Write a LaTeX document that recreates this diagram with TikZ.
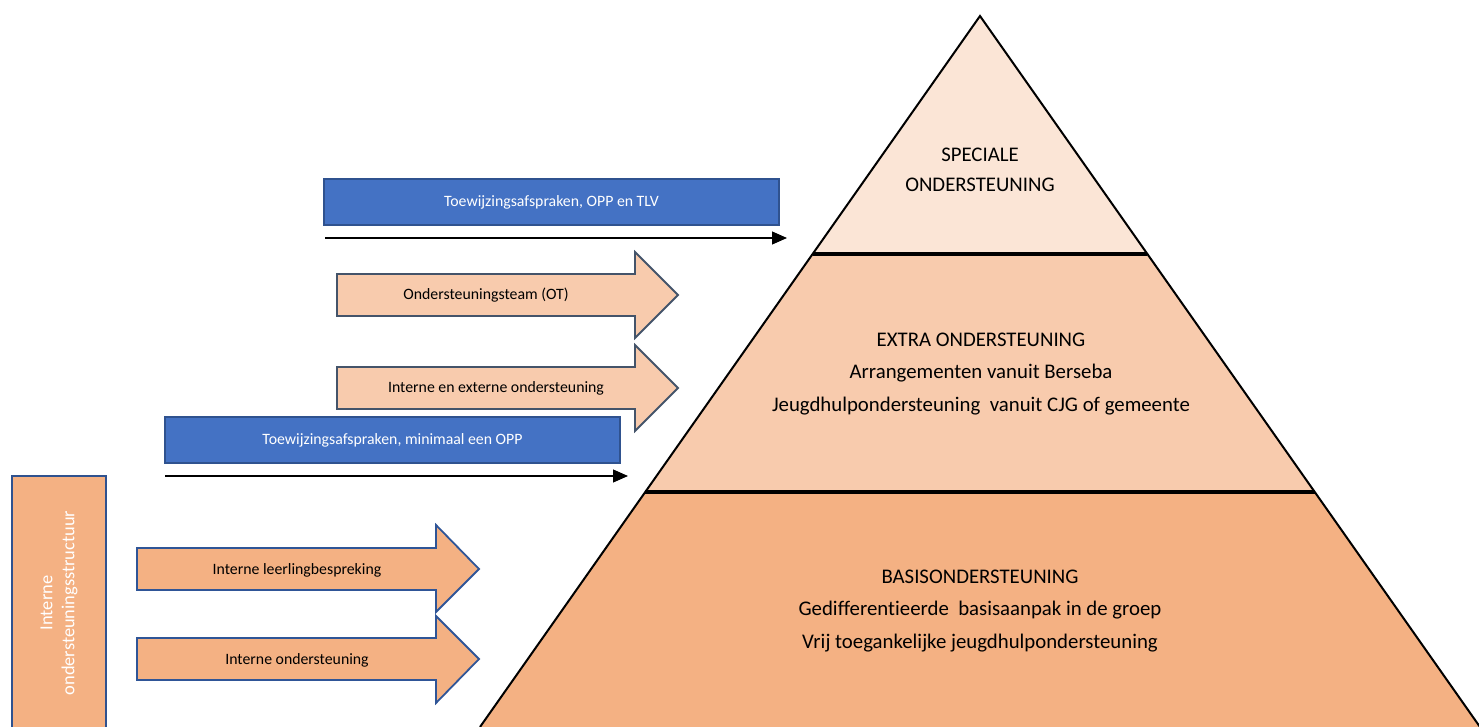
\documentclass[tikz,border=0pt]{standalone}
\usepackage{fontspec}
\setmainfont{Carlito}[Ligatures={NoCommon}]
\usetikzlibrary{arrows.meta}
\definecolor{toplayer}{HTML}{FBE5D6}
\definecolor{midlayer}{HTML}{F8CBAD}
\definecolor{botlayer}{HTML}{F4B183}
\definecolor{bluebox}{HTML}{4472C4}
\definecolor{blueedge}{HTML}{2F528F}
\definecolor{slateedge}{HTML}{44546A}
\definecolor{arrowblue}{HTML}{2F5597}
\tikzset{
  layer/.style={draw=black,line width=1pt,line join=miter},
  sep/.style={draw=black,line width=1.6pt},
  bluerect/.style={fill=bluebox,draw=blueedge,line width=1pt},
  blocka/.style={fill=midlayer,draw=slateedge,line width=0.9pt,line join=miter},
  blockb/.style={fill=botlayer,draw=arrowblue,line width=0.9pt,line join=miter},
  smalltxt/.style={font=\fontsize{7.9}{9.5}\selectfont,inner sep=0pt},
  whitetxt/.style={smalltxt,text=white},
  pyrtxt/.style={font=\fontsize{10.4}{16.2}\selectfont,align=center,inner sep=0pt,text=black},
  flowline/.style={draw=black,line width=0.6pt,-{Triangle[length=7.5pt,width=6.5pt]}}
}
\begin{document}
\begin{tikzpicture}[x=0.5pt,y=-0.5pt]
\useasboundingbox (0,0) rectangle (1479,727);
% pyramid layers
\fill[botlayer] (645,492) -- (1315,492) -- (1480,727) -- (480,727) -- cycle;
\fill[midlayer] (813,254) -- (1147,254) -- (1315,492) -- (645,492) -- cycle;
\fill[toplayer] (980,16) -- (1147,254) -- (813,254) -- cycle;
\draw[layer] (480,727) -- (980,16) -- (1480,727);
\draw[sep] (813,254) -- (1147,254);
\draw[sep] (645,492) -- (1315,492);
% pyramid texts
\node[pyrtxt,font=\fontsize{10.4}{15}\selectfont] (speciale) at (980,170) {SPECIALE\\ONDERSTEUNING};
\node[pyrtxt] (extra) at (981,374) {EXTRA ONDERSTEUNING\\Arrangementen vanuit Berseba\\Jeugdhulpondersteuning\ \ vanuit CJG of gemeente};
\node[pyrtxt] (basis) at (980,611) {BASISONDERSTEUNING\\Gedifferentieerde\ \ basisaanpak in de groep\\Vrij toegankelijke jeugdhulpondersteuning};
% blue boxes
\draw[bluerect] (324,179) rectangle (779,225);
\node[whitetxt] (tlv) at (551.5,202) {Toewijzingsafspraken, OPP en TLV};
\coordinate (l1s) at (325,238);
\coordinate (l1e) at (787,238);
\draw[flowline] (l1s) -- (l1e);
\draw[bluerect] (165,417) rectangle (620,463);
\node[whitetxt] (opp) at (392.5,440) {Toewijzingsafspraken, minimaal een OPP};
\coordinate (l2s) at (165,476);
\coordinate (l2e) at (628,476);
\draw[flowline] (l2s) -- (l2e);
% block arrows
\draw[blocka] (337,274) -- (635,274) -- (635,252) -- (678,295) -- (635,338) -- (635,316) -- (337,316) -- cycle;
\node[smalltxt] (ot) at (486,295) {Ondersteuningsteam (OT)};
\draw[blocka] (337,367) -- (635,367) -- (635,345) -- (678,388) -- (635,431) -- (635,409) -- (337,409) -- cycle;
\node[smalltxt] (iex) at (496,388) {Interne en externe ondersteuning};
\draw[blockb] (137,548) -- (436,548) -- (436,525) -- (479,569) -- (436,612) -- (436,590) -- (137,590) -- cycle;
\node[smalltxt] (ilb) at (297,570) {Interne leerlingbespreking};
\draw[blockb] (137,638) -- (436,638) -- (436,616) -- (479,659) -- (436,703) -- (436,680) -- (137,680) -- cycle;
\node[smalltxt] (io) at (297,660) {Interne ondersteuning};
% left vertical box
\draw[fill=botlayer,draw=blueedge,line width=1pt] (12,476) rectangle (106,740);
\node[font=\fontsize{9.2}{11}\selectfont,text=white,align=center,rotate=90,inner sep=0pt] (ios) at (59,603) {Interne\\ondersteuningsstructuur};
\end{tikzpicture}
\end{document}
